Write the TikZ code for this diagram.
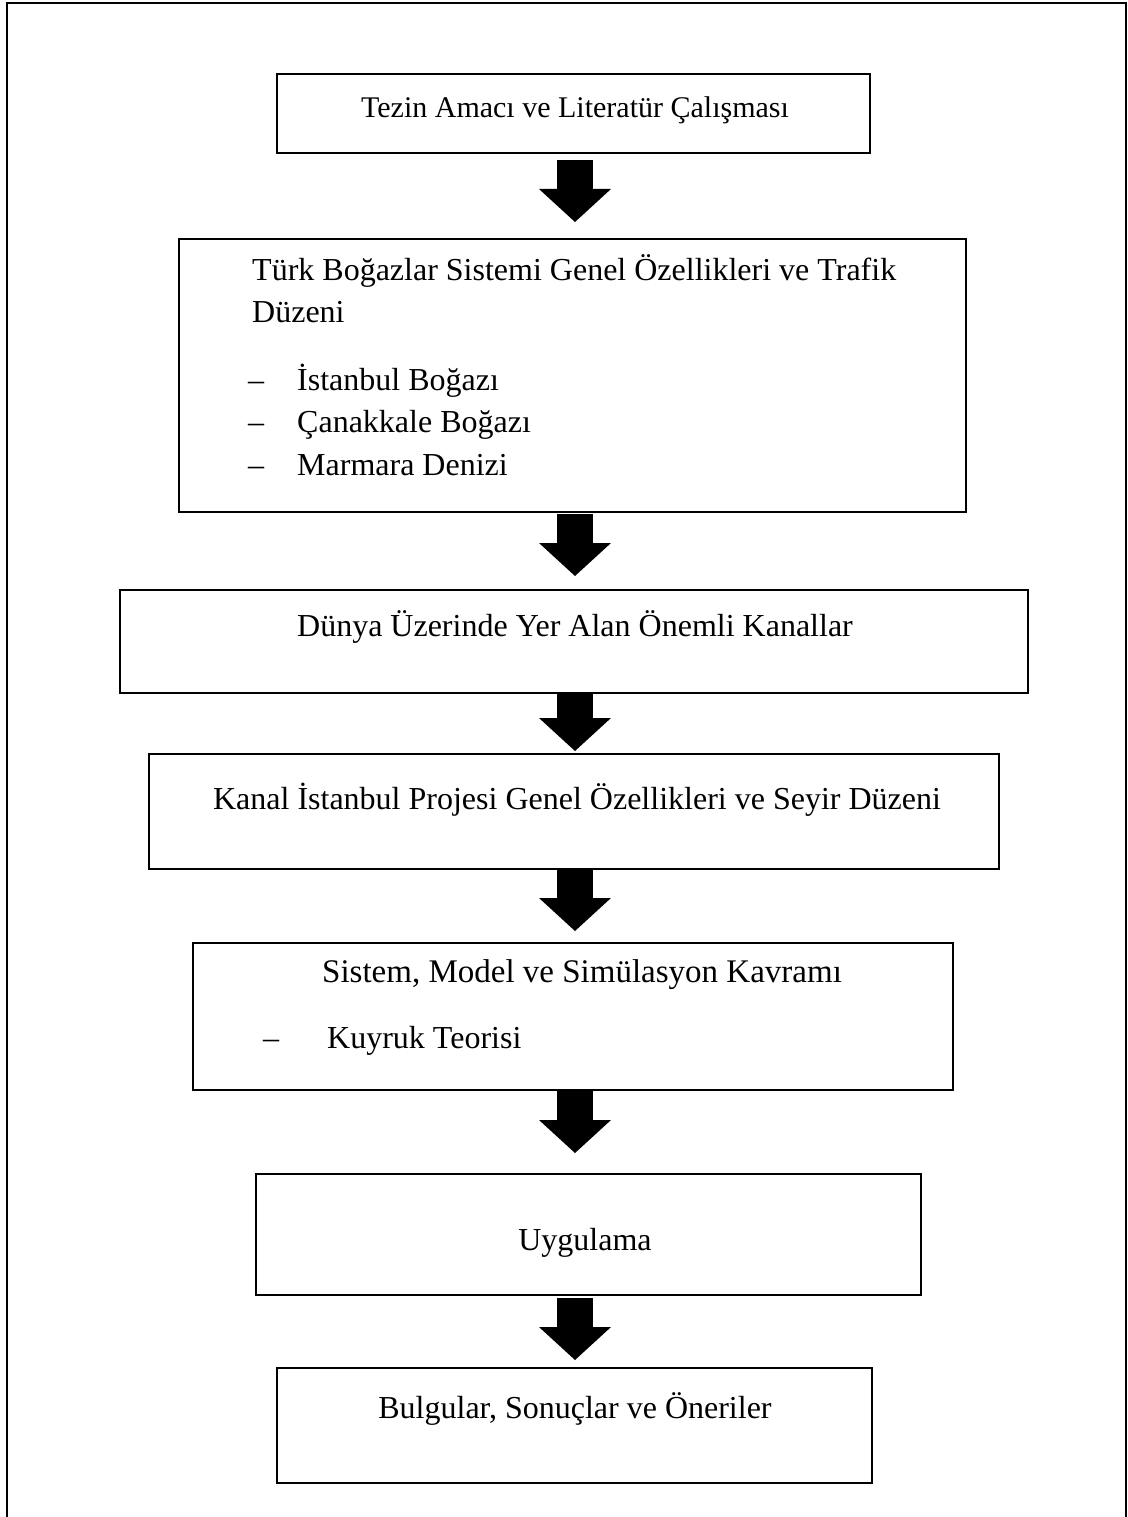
\documentclass[tikz,border=0pt]{standalone}
\usepackage{fontspec}
\setmainfont{Liberation Serif}
\usetikzlibrary{arrows.meta,fit}
\begin{document}
\begin{tikzpicture}[x=1pt,y=-1pt,
  box/.style={draw, line width=2pt, inner sep=0pt},
  txt/.style={inner sep=0pt, anchor=base, font=\fontsize{32}{42}\selectfont},
  ltxt/.style={txt, anchor=base west},
  blockarrow/.style={line width=36pt,
    -{Triangle[length=33pt, width=72pt, line width=0pt]}}
]
\useasboundingbox (0,0) rectangle (1127,1517);

% outer frame, open at the bottom
\draw[line width=2pt] (7,1517) -- (7,3) -- (1126,3) -- (1126,1517);

% vertical axis of the block arrows
\coordinate (axis) at (575,0);

% boxes
\node[box, fit={(277,74) (870,153)}] (b1) {};
\node[box, fit={(179,239) (966,512)}] (b2) {};
\node[box, fit={(120,590) (1028,693)}] (b3) {};
\node[box, fit={(149,754) (999,869)}] (b4) {};
\node[box, fit={(193,943) (953,1090)}] (b5) {};
\node[box, fit={(256,1174) (921,1295)}] (b6) {};
\node[box, fit={(277,1368) (872,1483)}] (b7) {};

% box texts
\node[txt, font=\fontsize{30}{42}\selectfont] (t1) at (575,118) {Tezin Amacı ve Literatür Çalışması};

\node[ltxt] (t2a) at (252,280) {Türk Boğazlar Sistemi Genel Özellikleri ve Trafik};
\node[ltxt] (t2b) at (252,322) {Düzeni};
\node[ltxt] (d2a) at (248,390) {–};
\node[ltxt] (i2a) at (297,390) {İstanbul Boğazı};
\node[ltxt] (d2b) at (248,432) {–};
\node[ltxt] (i2b) at (297,432) {Çanakkale Boğazı};
\node[ltxt] (d2c) at (248,475) {–};
\node[ltxt] (i2c) at (297,475) {Marmara Denizi};

\node[txt] (t3) at (575,636) {Dünya Üzerinde Yer Alan Önemli Kanallar};
\node[txt] (t4) at (577,809) {Kanal İstanbul Projesi Genel Özellikleri ve Seyir Düzeni};

\node[ltxt, font=\fontsize{33}{42}\selectfont] (t5a) at (322,982) {Sistem, Model ve Simülasyon Kavramı};
\node[ltxt] (d5a) at (263,1048) {–};
\node[ltxt] (i5a) at (327,1048) {Kuyruk Teorisi};

\node[txt] (t6) at (585,1250) {Uygulama};
\node[txt] (t7) at (575,1418) {Bulgular, Sonuçlar ve Öneriler};

% block arrows between the boxes
\draw[blockarrow, shorten <=6pt, shorten >=16pt] (b1.south -| axis) -- (b2.north -| axis);
\draw[blockarrow, shorten <=1pt, shorten >=13pt] (b2.south -| axis) -- (b3.north -| axis);
\draw[blockarrow, shorten <=0pt, shorten >=2pt] (b3.south -| axis) -- (b4.north -| axis);
\draw[blockarrow, shorten <=-1pt, shorten >=11pt] (b4.south -| axis) -- (b5.north -| axis);
\draw[blockarrow, shorten <=0pt, shorten >=20pt] (b5.south -| axis) -- (b6.north -| axis);
\draw[blockarrow, shorten <=2pt, shorten >=7pt] (b6.south -| axis) -- (b7.north -| axis);
\end{tikzpicture}
\end{document}
